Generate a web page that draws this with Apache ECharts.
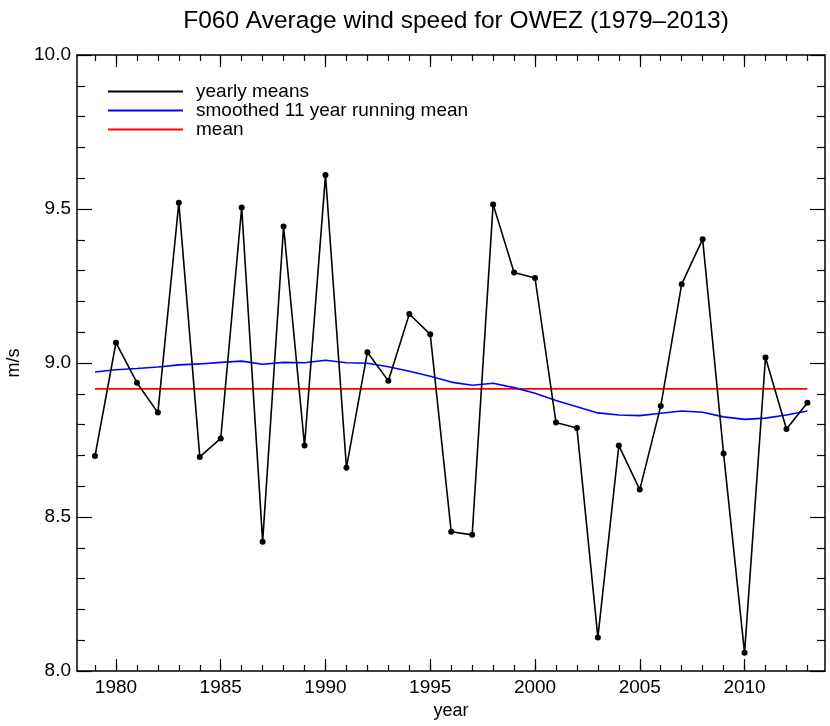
<!DOCTYPE html>
<html><head><meta charset="utf-8">
<script src="https://cdn.jsdelivr.net/npm/echarts@6/dist/echarts.min.js"></script>
<style>html,body{margin:0;padding:0;background:#fff}#c{width:830px;height:726px}</style>
</head><body><div id="c"></div>
<script>
const years = [1979,1980,1981,1982,1983,1984,1985,1986,1987,1988,1989,1990,1991,1992,1993,1994,1995,1996,1997,1998,1999,2000,2001,2002,2003,2004,2005,2006,2007,2008,2009,2010,2011,2012,2013];
const yearlyMeans = [8.698,9.066,8.936,8.839,9.520,8.695,8.755,9.505,8.420,9.443,8.732,9.610,8.660,9.035,8.942,9.159,9.093,8.452,8.442,9.515,9.294,9.276,8.807,8.789,8.109,8.732,8.589,8.860,9.256,9.402,8.706,8.059,9.018,8.786,8.871];
const smoothed = [8.971,8.978,8.982,8.987,8.994,8.997,9.002,9.006,8.996,9.002,9.001,9.009,9.001,8.999,8.988,8.973,8.957,8.938,8.928,8.934,8.920,8.902,8.878,8.858,8.838,8.831,8.829,8.837,8.844,8.840,8.825,8.817,8.821,8.831,8.844];
const meanValue = 8.916;
const majorYears = [1980,1985,1990,1995,2000,2005,2010];
const yTicks = [8.0,8.5,9.0,9.5,10.0];

const FONT = "'Liberation Sans', Arial, sans-serif";
const xMin = 1978.14, xMax = 2013.84;
const AX = {color:'#000', width:1.5};
const TK = {color:'#000', width:1.2};
const chart = echarts.init(document.getElementById('c'), null, {renderer:'canvas'});
const baseX = {type:'value', min:xMin, max:xMax, splitLine:{show:false}};
chart.setOption({
  animation:false,
  backgroundColor:'#fff',
  title:{text:'F060 Average wind speed for OWEZ (1979\u20132013)', left:451, textAlign:'center', top:4,
    textStyle:{fontFamily:FONT, fontSize:24.5, fontWeight:'normal', color:'#000'}},
  legend:{orient:'vertical', left:103, top:77, itemWidth:75, itemHeight:2, itemGap:0, icon:'rect',
    textStyle:{fontFamily:FONT, fontSize:19, color:'#000', lineHeight:19, padding:[0,0,0,8]},
    data:['yearly means','smoothed 11 year running mean','mean']},
  grid:{left:77, right:5, top:55, bottom:55, containLabel:false, outerBoundsMode:'none'},
  xAxis:[
    Object.assign({}, baseX, {position:'bottom', name:'year', nameLocation:'middle', nameGap:30,
      nameTextStyle:{fontFamily:FONT, fontSize:18, color:'#000'},
      axisLine:{show:true, onZero:false, lineStyle:AX},
      axisTick:{show:true, inside:true, length:12, customValues:majorYears, lineStyle:TK},
      axisLabel:{show:true, customValues:majorYears, margin:7, fontFamily:FONT, fontSize:19, color:'#000', formatter:v=>String(v)}}),
    Object.assign({}, baseX, {position:'bottom',
      axisLine:{show:false, onZero:false},
      axisTick:{show:true, inside:true, length:6, customValues:years, lineStyle:TK},
      axisLabel:{show:false}}),
    Object.assign({}, baseX, {position:'top',
      axisLine:{show:true, onZero:false, lineStyle:AX},
      axisTick:{show:true, inside:true, length:12, customValues:majorYears, lineStyle:TK},
      axisLabel:{show:false}}),
    Object.assign({}, baseX, {position:'top',
      axisLine:{show:false, onZero:false},
      axisTick:{show:true, inside:true, length:6, customValues:years, lineStyle:TK},
      axisLabel:{show:false}})
  ],
  yAxis:[
    {type:'value', min:8, max:10, interval:0.5, position:'left', name:'m/s', nameLocation:'middle', nameGap:52,
      nameTextStyle:{fontFamily:FONT, fontSize:18, color:'#000'},
      splitLine:{show:false},
      axisLine:{show:true, onZero:false, lineStyle:AX},
      axisTick:{show:true, inside:true, length:15, lineStyle:TK},
      minorTick:{show:true, splitNumber:5, length:8, lineStyle:TK},
      axisLabel:{show:true, margin:6, fontFamily:FONT, fontSize:19, color:'#000', formatter:v=>v.toFixed(1)}},
    {type:'value', min:8, max:10, interval:0.5, position:'right',
      splitLine:{show:false},
      axisLine:{show:true, onZero:false, lineStyle:AX},
      axisTick:{show:true, inside:true, length:15, lineStyle:TK},
      minorTick:{show:true, splitNumber:5, length:8, lineStyle:TK},
      axisLabel:{show:false}}
  ],
  series:[
    {name:'mean', type:'line', xAxisIndex:0, yAxisIndex:0, showSymbol:false, symbol:'none',
      data:[[years[0],meanValue],[years[years.length-1],meanValue]],
      lineStyle:{color:'#ff0000', width:1.6}, itemStyle:{color:'#ff0000'}, z:2},
    {name:'smoothed 11 year running mean', type:'line', xAxisIndex:0, yAxisIndex:0, showSymbol:false, symbol:'none',
      data:years.map((y,i)=>[y,smoothed[i]]),
      lineStyle:{color:'#0000ff', width:1.6}, itemStyle:{color:'#0000ff'}, z:3},
    {name:'yearly means', type:'line', xAxisIndex:0, yAxisIndex:0, symbol:'circle', symbolSize:6,
      data:years.map((y,i)=>[y,yearlyMeans[i]]),
      lineStyle:{color:'#000', width:1.6}, itemStyle:{color:'#000'}, z:4}
  ]
});
</script></body></html>
